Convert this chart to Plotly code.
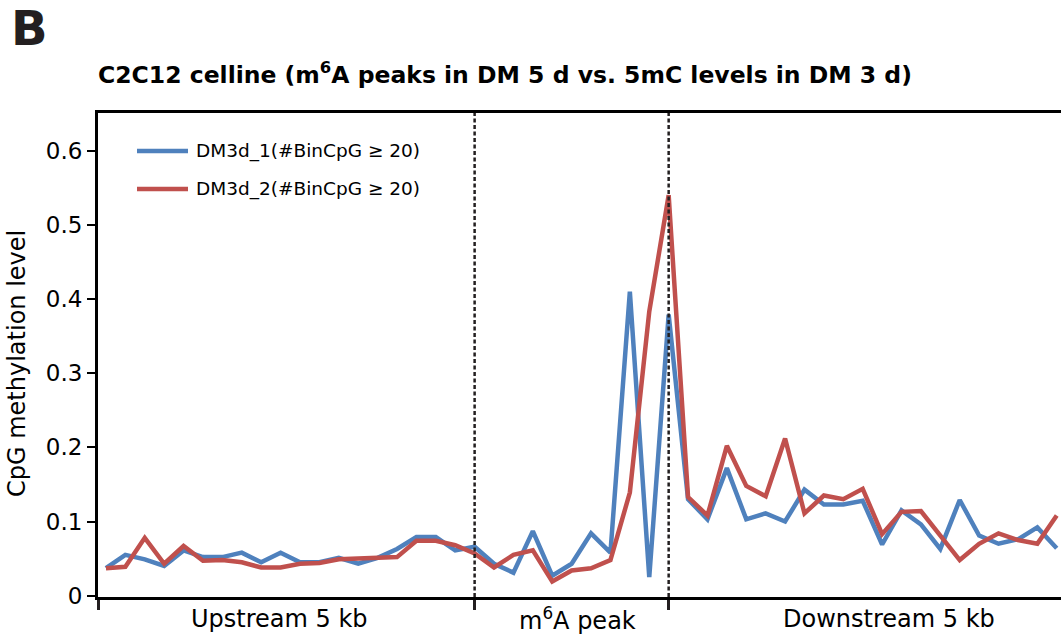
import plotly.graph_objects as go

# ---------------- data ----------------
bin_index = list(range(50))  # 20 upstream bins, 10 peak bins, 20 downstream bins
dm3d_1 = [0.037, 0.055, 0.049, 0.040, 0.061, 0.052, 0.052, 0.058, 0.045, 0.058,
          0.045, 0.045, 0.051, 0.043, 0.051, 0.063, 0.079, 0.079, 0.061, 0.066,
          0.043, 0.031, 0.087, 0.027, 0.043, 0.084, 0.058, 0.410, 0.025, 0.379,
          0.130, 0.103, 0.172, 0.103, 0.111, 0.100, 0.143, 0.123, 0.123, 0.128,
          0.069, 0.115, 0.096, 0.063, 0.129, 0.081, 0.070, 0.076, 0.092, 0.064]
dm3d_2 = [0.037, 0.039, 0.078, 0.043, 0.067, 0.047, 0.048, 0.045, 0.038, 0.038,
          0.043, 0.044, 0.049, 0.050, 0.052, 0.052, 0.074, 0.074, 0.068, 0.057,
          0.038, 0.055, 0.061, 0.019, 0.034, 0.037, 0.048, 0.139, 0.383, 0.540,
          0.133, 0.108, 0.202, 0.148, 0.134, 0.212, 0.111, 0.135, 0.130, 0.144,
          0.083, 0.113, 0.114, 0.081, 0.048, 0.070, 0.084, 0.075, 0.070, 0.108]
series_names = ["DM3d_1(#BinCpG \u2265 20)", "DM3d_2(#BinCpG \u2265 20)"]
region_labels = ["Upstream 5 kb", "m<sup>6</sup>A peak", "Downstream 5 kb"]
region_label_x = [8.95, 24.3, 40.35]
boundaries = [19, 29]
y_ticks = [0, 0.1, 0.2, 0.3, 0.4, 0.5, 0.6]
y_tick_labels = ["0", "0.1", "0.2", "0.3", "0.4", "0.5", "0.6"]

BLUE = "#4f81bd"
RED = "#c0504d"
INK = "#231f20"
FONT = "DejaVu Sans, Arial, sans-serif"

W, H = 1061, 639
L, R, T, B = 98, 0, 113, 42
PW, PH = W - L - R, H - T - B
X_RANGE = [-0.41, 49.22]


def px_x(px):
    return (px - L) / PW


def px_y(py):
    return (H - B - py) / PH


fig = go.Figure()
for vals, color, name in [(dm3d_1, BLUE, series_names[0]), (dm3d_2, RED, series_names[1])]:
    fig.add_trace(go.Scatter(x=bin_index, y=vals, mode="lines", name=name,
                             line=dict(color=color, width=4.5), showlegend=False))

shapes = []
for b in boundaries:
    shapes.append(dict(type="line", xref="x", yref="paper", x0=b, x1=b, y0=0, y1=1,
                       line=dict(color=INK, width=2.5, dash="4px,2.5px")))

annotations = []
for lab, xv in zip(region_labels, region_label_x):
    annotations.append(dict(text=lab, x=xv, xref="x", y=px_y(619), yref="paper",
                            showarrow=False, xanchor="center", yanchor="middle",
                            font=dict(family=FONT, size=24, color="black")))

# legend (manual, to match long line samples)
for i, (name, color) in enumerate([(series_names[0], BLUE), (series_names[1], RED)]):
    ly = 151 + i * 38
    shapes.append(dict(type="line", xref="paper", yref="paper",
                       x0=px_x(137), x1=px_x(188), y0=px_y(ly), y1=px_y(ly),
                       line=dict(color=color, width=4.5)))
    annotations.append(dict(text=name, x=px_x(194), xref="paper", y=px_y(ly), yref="paper",
                            showarrow=False, xanchor="left", yanchor="middle",
                            font=dict(family=FONT, size=18.5, color="black")))

# y-axis title
annotations.append(dict(text="CpG methylation level", textangle=-90, x=px_x(17), xref="paper",
                        y=px_y(364), yref="paper", showarrow=False,
                        xanchor="center", yanchor="middle",
                        font=dict(family=FONT, size=24, color="black")))
# panel letter
annotations.append(dict(text="<b>B</b>", x=px_x(9), xref="paper", y=px_y(28), yref="paper",
                        showarrow=False, xanchor="left", yanchor="middle",
                        font=dict(family=FONT, size=48, color=INK)))

fig.update_layout(
    width=W, height=H,
    margin=dict(l=L, r=R, t=T, b=B),
    paper_bgcolor="white", plot_bgcolor="white",
    title=dict(text="<b>C2C12 celline (m<sup>6</sup>A peaks in DM 5 d vs. 5mC levels in DM 3 d)</b>",
               x=98 / W, xanchor="left", xref="container",
               y=1 - 75 / H, yanchor="middle", yref="container",
               font=dict(family=FONT, size=23.5, color="black")),
    shapes=shapes, annotations=annotations,
    xaxis=dict(range=X_RANGE, showgrid=False, zeroline=False,
               showline=True, linecolor="black", linewidth=3, mirror=True,
               tickvals=[X_RANGE[0] + 0.05] + boundaries, ticktext=["", "", ""],
               ticks="outside", ticklen=10, tickwidth=3, tickcolor=INK),
    yaxis=dict(range=[-0.0018, 0.6508], showgrid=False, zeroline=False,
               showline=True, linecolor="black", linewidth=3,
               tickvals=y_ticks, ticktext=y_tick_labels,
               ticks="outside", ticklen=8, tickwidth=2, tickcolor="black",
               tickfont=dict(family=FONT, size=23, color="black")),
    showlegend=False,
)

fig.write_html("out.html", config={"displayModeBar": False},
               post_script="document.body.style.margin='0';document.body.style.overflow='hidden';")
